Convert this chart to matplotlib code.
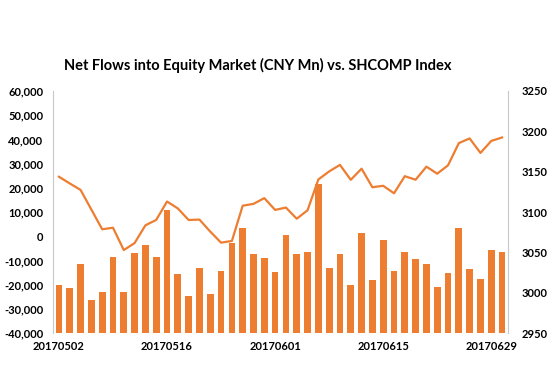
import matplotlib.pyplot as plt
import numpy as np

plt.rcParams['font.family'] = ['Lato', 'DejaVu Sans']

# trading days 2017-05-02 .. 2017-06-30
dates = ['20170502', '20170503', '20170504', '20170505', '20170508', '20170509',
         '20170510', '20170511', '20170512', '20170515', '20170516', '20170517',
         '20170518', '20170519', '20170522', '20170523', '20170524', '20170525',
         '20170526', '20170531', '20170601', '20170602', '20170605', '20170606',
         '20170607', '20170608', '20170609', '20170612', '20170613', '20170614',
         '20170615', '20170616', '20170619', '20170620', '20170621', '20170622',
         '20170623', '20170626', '20170627', '20170628', '20170629', '20170630']

# net flows, CNY Mn
flows = [-20100, -21500, -11400, -26300, -22900, -8500, -22900, -7000, -3700, -8500,
         11000, -15600, -24700, -13300, -23800, -14200, -3000, 3300, -7400, -9200,
         -14900, 400, -7500, -6600, 21600, -13300, -7300, -20300, 1500, -18100,
         -1400, -14500, -6600, -9600, -11500, -21000, -15200, 3200, -13600, -17800,
         -5900, -6700]

# SHCOMP close
shcomp = [3143.7, 3135.4, 3127.4, 3103.0, 3078.6, 3080.5, 3052.8, 3061.5, 3083.5, 3090.2,
          3113.0, 3104.4, 3090.1, 3090.6, 3075.7, 3062.0, 3064.1, 3107.8, 3110.1, 3117.2,
          3102.6, 3105.5, 3091.7, 3102.1, 3140.3, 3150.3, 3158.4, 3139.9, 3153.7, 3130.7,
          3132.5, 3123.2, 3144.4, 3140.0, 3156.2, 3147.5, 3157.9, 3185.4, 3191.2, 3173.2,
          3188.1, 3192.4]

orange = '#ED7D31'
x = np.arange(len(dates))
ymin, ymax = -40000, 60000

fig = plt.figure(figsize=(5.51, 3.74), dpi=100)
ax = fig.add_axes([0.0962, 0.1096, 0.8258, 0.6471])
# columns rise from the axis minimum, as in the Excel original
ax.bar(x, np.array(flows) - ymin, width=0.62, color=orange, bottom=ymin)
ax.set_ylim(ymin, ymax)
ax.set_yticks(range(ymin, ymax + 1, 10000))
ax.set_yticklabels(['{:,}'.format(v) for v in range(ymin, ymax + 1, 10000)])
ax.set_xlim(-0.55, len(dates) - 0.45)
ax.set_xticks(x[::10])
ax.set_xticklabels(dates[::10])

ax2 = ax.twinx()
ax2.plot(x, shcomp, color=orange, lw=1.6)
ax2.set_ylim(2950, 3250)
ax2.set_yticks(range(2950, 3251, 50))

for a in (ax, ax2):
    for s in a.spines.values():
        s.set_visible(False)
    a.tick_params(length=0, labelsize=8)
    for lab in a.get_xticklabels() + a.get_yticklabels():
        lab.set_fontweight('bold')
ax.spines['left'].set_visible(True)
ax.spines['left'].set_color('#c8c8c8')
ax2.spines['right'].set_visible(True)
ax2.spines['right'].set_color('#c8c8c8')
ax.tick_params(axis='y', pad=7)
ax2.tick_params(axis='y', pad=10)
ax.tick_params(axis='x', pad=6)

fig.text(0.468, 0.826, 'Net Flows into Equity Market (CNY Mn) vs. SHCOMP Index',
         ha='center', va='center', fontsize=10.5, fontweight='bold')

fig.savefig('out.png', dpi=100, facecolor='white')
